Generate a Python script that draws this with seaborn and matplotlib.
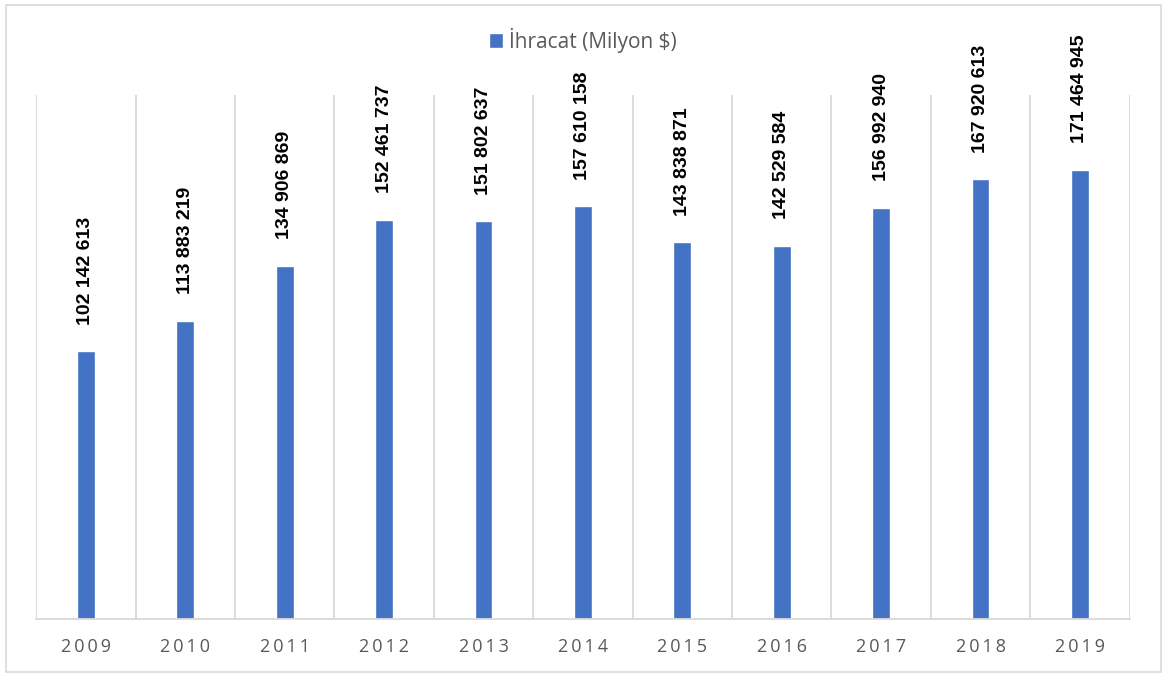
import numpy as np
import pandas as pd
import matplotlib
matplotlib.use("Agg")
import matplotlib.pyplot as plt
import seaborn as sns
from matplotlib.patches import Rectangle

# data
years = ["2009", "2010", "2011", "2012", "2013", "2014", "2015", "2016", "2017", "2018", "2019"]
exports = [102142613, 113883219, 134906869, 152461737, 151802637, 157610158,
           143838871, 142529584, 156992940, 167920613, 171464945]
series_name = "İhracat (Milyon $)"

df = pd.DataFrame({"Yil": years, "Ihracat": exports})

sns.set_style("white")
plt.rcParams['font.family'] = ['Liberation Sans', 'DejaVu Sans']

fig = plt.figure(figsize=(11.67, 6.77), dpi=100)
ax = fig.add_axes([0.031, 0.0857, 0.937, 0.774])

sns.barplot(x="Yil", y="Ihracat", data=df, color="#4472C4", width=0.18,
            saturation=1, ax=ax, label=series_name)

# value labels, rotated, bold
labels = [f"{v:,}".replace(",", " ") for v in exports]
ax.bar_label(ax.containers[0], labels=labels, rotation=90, padding=19,
             fontsize=14, fontweight="bold", color="black")

ax.set_ylim(0, 200000000)
ax.set_xlim(-0.5, len(years) - 0.5)
ax.set_yticks([])
ax.set_xlabel("")
ax.set_ylabel("")

# year labels with wide letter spacing
ax.set_xticks(range(len(years)))
ax.set_xticklabels(["\u2009".join(y) for y in years], family=["Open Sans", "DejaVu Sans"])

# vertical grid lines between categories
ax.set_xticks(np.arange(-0.5, len(years), 1), minor=True)
ax.grid(which="minor", axis="x", color="#D9D9D9", linewidth=1.3)
ax.tick_params(axis="x", which="both", length=0, pad=14, labelsize=13, labelcolor="#595959")

for s in ["top", "left", "right"]:
    ax.spines[s].set_visible(False)
ax.spines["bottom"].set_color("#D9D9D9")
ax.spines["bottom"].set_linewidth(1.3)

leg = ax.legend(loc="lower center", bbox_to_anchor=(0.5, 1.065), frameon=False,
                fontsize=15, handlelength=0.7, handleheight=0.7, handletextpad=0.3,
                borderaxespad=0)
for t in leg.get_texts():
    t.set_color("#595959")
    t.set_fontfamily("Open Sans")

# outer border of the chart area
fig.patches.append(Rectangle((0.005, 0.007), 0.99, 0.985, transform=fig.transFigure,
                             fill=False, edgecolor="#D9D9D9", linewidth=1.2))

fig.savefig("out.png", dpi=100)
